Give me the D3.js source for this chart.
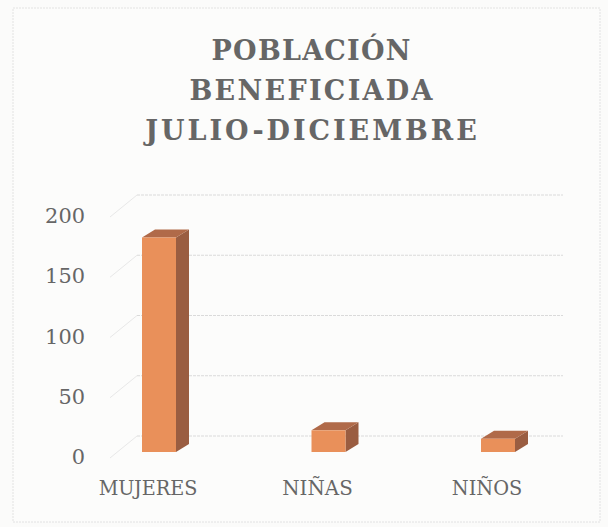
<!DOCTYPE html>
<html>
<head>
<meta charset="utf-8">
<script src="https://cdn.jsdelivr.net/npm/d3@7"></script>
<style>
  html, body { margin: 0; padding: 0; background: #fbfbfa; }
  svg { display: block; }
</style>
</head>
<body>
<div id="chart"></div>
<script>
// ---- data ----
const titleLines = ["POBLACIÓN", "BENEFICIADA", "JULIO-DICIEMBRE"];
const categories = ["MUJERES", "NIÑAS", "NIÑOS"];
const values = [178, 18, 11];
const yTicks = [0, 50, 100, 150, 200];

// ---- layout ----
const W = 608, H = 527;
const svg = d3.select("#chart").append("svg").attr("width", W).attr("height", H);
const serifFont = "'DejaVu Serif', 'Liberation Serif', serif";
const charW = 22.1;   // title monospace advance
const labelCharW = 14.1;

svg.append("rect").attr("x", 13).attr("y", 8).attr("width", 587).attr("height", 514)
  .attr("fill", "#fcfcfb").attr("stroke", "#e2e2e2").attr("stroke-dasharray", "2,1");

const y = d3.scaleLinear().domain([0, 200]).range([452, 211]);
const x = d3.scalePoint().domain(categories).range([159, 498]);
const barW = 34;
const barDepth = { dx: 13, dy: -8 };
const wallDepth = { dx: 22, dy: -16 };
const frontDepth = { dx: -5, dy: 5 };
const wallX0 = 137, wallX1 = 563;

const grid = svg.append("g");
yTicks.forEach(v => {
  const by = y(v) + wallDepth.dy;
  grid.append("line").attr("x1", wallX0).attr("x2", wallX1).attr("y1", by).attr("y2", by)
    .attr("stroke", "#dadada").attr("stroke-width", 1).attr("stroke-dasharray", "3,1");
  grid.append("line").attr("x1", wallX0).attr("y1", by)
    .attr("x2", wallX0 - 27).attr("y2", by + 22)
    .attr("stroke", "#e8e8e8").attr("stroke-width", 1);
});

svg.append("g").selectAll("text").data(yTicks).join("text")
  .attr("x", 85).attr("y", d => y(d) + frontDepth.dy)
  .attr("text-anchor", "end").attr("dominant-baseline", "central")
  .attr("font-family", serifFont).attr("font-weight", 300)
  .attr("font-size", 21).attr("fill", "#666")
  .attr("textLength", d => String(d).length * 13.3).attr("lengthAdjust", "spacingAndGlyphs")
  .text(d => d);

const bars = svg.append("g").selectAll("g").data(categories.map((c, i) => ({ c, v: values[i] }))).join("g");
bars.each(function(d) {
  const g = d3.select(this);
  const x0 = x(d.c) - barW / 2, x1 = x0 + barW;
  const yb = y(0), yt = y(d.v);
  const dx = barDepth.dx, dy = barDepth.dy;
  g.append("path")
    .attr("d", `M${x1},${yt} L${x1 + dx},${yt + dy} L${x1 + dx},${yb + dy} L${x1},${yb} Z`)
    .attr("fill", "#9a5d41");
  g.append("path")
    .attr("d", `M${x0},${yt} L${x0 + dx},${yt + dy} L${x1 + dx},${yt + dy} L${x1},${yt} Z`)
    .attr("fill", "#b06a49");
  g.append("rect").attr("x", x0).attr("y", yt).attr("width", barW).attr("height", yb - yt)
    .attr("fill", "#e9905a");
});

svg.append("g").selectAll("text").data(categories).join("text")
  .attr("x", d => x(d) - 11).attr("y", 495)
  .attr("text-anchor", "middle")
  .attr("font-family", serifFont)
  .attr("font-size", 21).attr("fill", "#666")
  .attr("textLength", d => d.length * labelCharW).attr("lengthAdjust", "spacingAndGlyphs")
  .text(d => d);

svg.append("g").selectAll("text").data(titleLines).join("text")
  .attr("x", 311).attr("y", (d, i) => 60 + i * 40)
  .attr("text-anchor", "middle")
  .attr("font-family", serifFont)
  .attr("font-weight", "bold")
  .attr("font-size", 27).attr("fill", "#666")
  .attr("textLength", d => d.length * charW).attr("lengthAdjust", "spacing")
  .text(d => d);
</script>
</body>
</html>
